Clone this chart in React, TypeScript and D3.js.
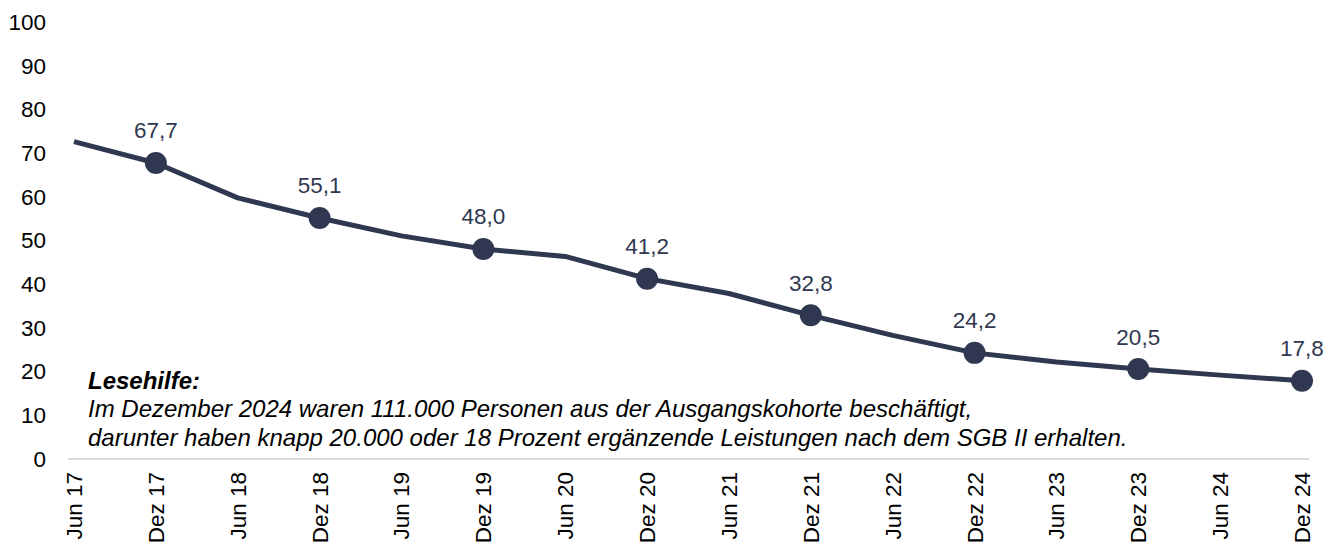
import React from "react";
import * as d3 from "d3";

const categories = ["Jun 17","Dez 17","Jun 18","Dez 18","Jun 19","Dez 19","Jun 20","Dez 20","Jun 21","Dez 21","Jun 22","Dez 22","Jun 23","Dez 23","Jun 24","Dez 24"];
const values = [72.6, 67.7, 59.7, 55.1, 51.0, 48.0, 46.3, 41.2, 37.8, 32.8, 28.2, 24.2, 22.1, 20.5, 19.1, 17.8];
const labeled = [false, true, false, true, false, true, false, true, false, true, false, true, false, true, false, true];
const yTicks = [0, 10, 20, 30, 40, 50, 60, 70, 80, 90, 100];
const noteTitle = "Lesehilfe:";
const noteLines = [
  "Im Dezember 2024 waren 111.000 Personen aus der Ausgangskohorte beschäftigt,",
  "darunter haben knapp 20.000 oder 18 Prozent ergänzende Leistungen nach dem SGB II erhalten.",
];

const W = 1339, H = 546;
const NAVY = "#2f3850";
const FONT = "Liberation Sans, Arial, sans-serif";

export default function App() {
  const x = d3.scalePoint<string>().domain(categories).range([74, 1302]);
  const y = d3.scaleLinear().domain([0, 100]).range([458.5, 22]);
  const line = d3.line<number>().x((_, i) => x(categories[i])!).y((d) => y(d));
  const fmt = (v: number) => v.toFixed(1).replace(".", ",");
  return (
    <svg width={W} height={H} style={{ position: "absolute", left: 0, top: 0 }} fontFamily={FONT}>
      <rect width={W} height={H} fill="#fff" />
      {yTicks.map((t) => (
        <text key={t} x={46} y={y(t)} dy="0.36em" textAnchor="end" fontSize={22.5} fill="#000">{t}</text>
      ))}
      <line x1={68} x2={1309} y1={459} y2={459} stroke="#d9d9d9" strokeWidth={2} />
      {categories.map((c) => (
        <text key={c} transform={`translate(${x(c)! + 8},472) rotate(-90)`} textAnchor="end" fontSize={22.5} fill="#000">{c}</text>
      ))}
      <path d={line(values)!} fill="none" stroke={NAVY} strokeWidth={5} strokeLinejoin="round" />
      {values.map((v, i) => labeled[i] ? (
        <g key={i}>
          <circle cx={x(categories[i])} cy={y(v)} r={11} fill={NAVY} />
          <text x={x(categories[i])} y={y(v) - 24.5} textAnchor="middle" fontSize={22.5} fill={NAVY}>{fmt(v)}</text>
        </g>
      ) : null)}
      <text x={88} y={389} fontSize={24} fontWeight="bold" fontStyle="italic" fill="#000">{noteTitle}</text>
      {noteLines.map((l, i) => (
        <text key={i} x={88} y={417 + i * 28.5} fontSize={24} fontStyle="italic" fill="#000">{l}</text>
      ))}
    </svg>
  );
}
